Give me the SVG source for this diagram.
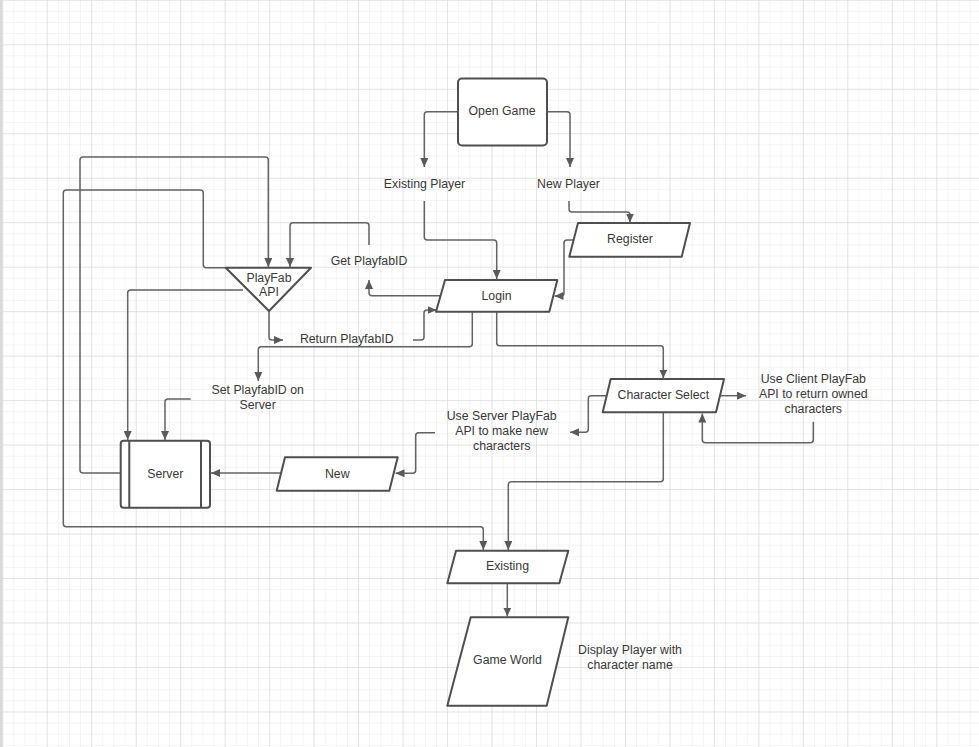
<svg xmlns="http://www.w3.org/2000/svg" width="979" height="747" viewBox="0 0 979 747">
<defs>
<pattern id="minor" patternUnits="userSpaceOnUse" x="2.25" y="-0.2" width="11.12" height="11.12">
<path d="M0,0 H11.12 M0,0 V11.12" fill="none" stroke="#e9e9e9" stroke-width="1"/>
</pattern>
<pattern id="major" patternUnits="userSpaceOnUse" x="2.25" y="-0.2" width="44.48" height="44.48">
<path d="M0,0 H44.48 M0,0 V44.48" fill="none" stroke="#d6d6d6" stroke-width="1"/>
</pattern>
<marker id="arr" markerUnits="userSpaceOnUse" markerWidth="9" markerHeight="8" refX="9" refY="4" orient="auto">
<path d="M0,0 L9,4 L0,8 z" fill="#5a5a5a"/>
</marker>
</defs>
<style>
.shape{fill:#ffffff;stroke:#4f4f4f;stroke-width:2;stroke-linejoin:round}
.c{fill:none;stroke:#636363;stroke-width:1.5}
.a{marker-end:url(#arr)}
text{font-family:"Liberation Sans",Arial,sans-serif;font-size:12.3px;fill:#383838;text-anchor:middle}
</style>
<rect width="979" height="747" fill="#ffffff"/>
<rect width="979" height="747" fill="url(#minor)"/>
<rect width="979" height="747" fill="url(#major)"/>
<rect x="0" y="0" width="2.5" height="747" fill="#d9d9d9"/>

<g id="connectors">
<path class="c a" d="M458,111.7 H427.3 Q424.3,111.7 424.3,114.7 V167"/>
<path class="c a" d="M547,111.7 H567 Q570,111.7 570,114.7 V167"/>
<path class="c a" d="M424.3,201 V237 Q424.3,240 427.3,240 H493.7 Q496.7,240 496.7,243 V279"/>
<path class="c a" d="M569,201 V209 Q569,212 572,212 H627 Q630,212 630,215 V222.5"/>
<path class="c a" d="M574,240 H567 Q564,240 564,243 V293 Q564,296 561,296 H554.5"/>
<path class="c a" d="M440.5,295.7 H372 Q369,295.7 369,292.7 V280"/>
<path class="c a" d="M369,245 V225.7 Q369,222.7 366,222.7 H293 Q290,222.7 290,225.7 V267"/>
<path class="c a" d="M120.7,473 H83 Q80,473 80,470 V160 Q80,157 83,157 H265.3 Q268.3,157 268.3,160 V267"/>
<path class="c a" d="M225.7,267.7 H206.3 Q203.3,267.7 203.3,264.7 V193 Q203.3,190 200.3,190 H66.3 Q63.3,190 63.3,193 V523.7 Q63.3,526.7 66.3,526.7 H480.3 Q483.3,526.7 483.3,529.7 V550"/>
<path class="c a" d="M243,290 H130.7 Q127.7,290 127.7,293 V440"/>
<path class="c a" d="M190.7,399 H168 Q165,399 165,402 V440"/>
<path class="c a" d="M269,311 V337 Q269,340 272,340 H283"/>
<path class="c a" d="M413,340 H421 Q424,340 424,337 V313 Q424,310 427,310 H436.5"/>
<path class="c a" d="M472.3,312 V343.7 Q472.3,346.7 469.3,346.7 H261.3 Q258.3,346.7 258.3,349.7 V381"/>
<path class="c a" d="M496.7,312 V342.7 Q496.7,345.7 499.7,345.7 H660.3 Q663.3,345.7 663.3,348.7 V378.5"/>
<path class="c a" d="M720,395.7 H746"/>
<path class="c a" d="M813.3,421.7 V439.7 Q813.3,442.7 810.3,442.7 H705.3 Q702.3,442.7 702.3,439.7 V413.5"/>
<path class="c a" d="M606.5,395.7 H591.3 Q588.3,395.7 588.3,398.7 V429.3 Q588.3,432.3 585.3,432.3 H570"/>
<path class="c a" d="M435,432.7 H418.7 Q415.7,432.7 415.7,435.7 V470.3 Q415.7,473.3 412.7,473.3 H395.5"/>
<path class="c a" d="M281,473 H211"/>
<path class="c a" d="M663.3,412.3 V478.7 Q663.3,481.7 660.3,481.7 H511.3 Q508.3,481.7 508.3,484.7 V550"/>
<path class="c a" d="M507.3,583.3 V616.5"/>
</g>

<g id="open-game">
<rect class="shape" x="458" y="78.5" width="89" height="67" rx="4"/>
<text x="502" y="115">Open Game</text>
</g>
<g id="existing-player"><text x="424.5" y="188">Existing Player</text></g>
<g id="new-player"><text x="568.5" y="188">New Player</text></g>
<g id="register">
<path class="shape" d="M578,223 L690,223 L681.7,256.7 L569.3,256.7 Z"/>
<text x="630" y="243">Register</text>
</g>
<g id="login">
<path class="shape" d="M445,280 L557.3,280 L549.3,311.7 L436,311.7 Z"/>
<text x="496.5" y="299.5">Login</text>
</g>
<g id="get-playfabid"><text x="369" y="264.5">Get PlayfabID</text></g>
<g id="playfab-api">
<path class="shape" d="M225.7,267.7 L311,267.7 L269,311 Z"/>
<text x="269" y="282">PlayFab</text>
<text x="269" y="296">API</text>
</g>
<g id="return-playfabid"><text x="346.7" y="343">Return PlayfabID</text></g>
<g id="set-playfabid"><text x="257.7" y="394">Set PlayfabID on</text><text x="257.7" y="409">Server</text></g>
<g id="server">
<rect class="shape" x="120.7" y="440.7" width="89.3" height="67" rx="3"/>
<path class="shape" d="M129.3,440.7 V507.7 M201,440.7 V507.7" fill="none"/>
<text x="165.3" y="477.5">Server</text>
</g>
<g id="new">
<path class="shape" d="M285,457.3 L397.7,457.3 L389.3,490.7 L276.7,490.7 Z"/>
<text x="337.3" y="477.5">New</text>
</g>
<g id="character-select">
<path class="shape" d="M610.7,379 L724,379 L716,412.3 L602.7,412.3 Z"/>
<text x="663.3" y="399">Character Select</text>
</g>
<g id="client-api-text">
<text x="813.3" y="383">Use Client PlayFab</text>
<text x="813.3" y="398">API to return owned</text>
<text x="813.3" y="413">characters</text>
</g>
<g id="server-api-text">
<text x="501.7" y="420">Use Server PlayFab</text>
<text x="501.7" y="435">API to make new</text>
<text x="501.7" y="450">characters</text>
</g>
<g id="existing">
<path class="shape" d="M456,550.7 L568.3,550.7 L559.3,583.3 L447.3,583.3 Z"/>
<text x="507.5" y="570">Existing</text>
</g>
<g id="game-world">
<path class="shape" d="M470.7,617.3 L568.3,617.3 L546.7,705.7 L447.3,705.7 Z"/>
<text x="507.5" y="664">Game World</text>
</g>
<g id="display-text">
<text x="630" y="654">Display Player with</text>
<text x="630" y="669">character name</text>
</g>
</svg>
